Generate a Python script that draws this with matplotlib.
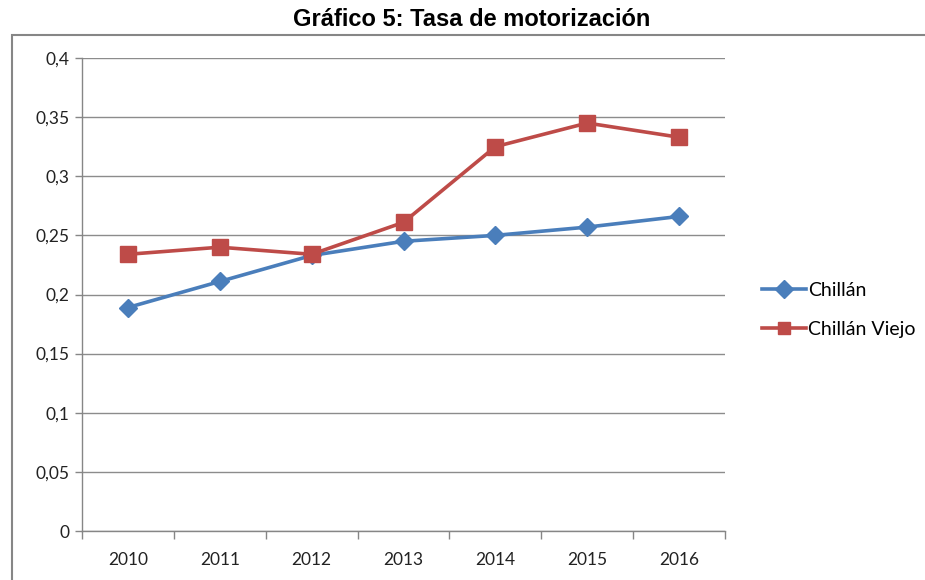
import matplotlib.pyplot as plt
from matplotlib.patches import Rectangle
import numpy as np

anios = ['2010', '2011', '2012', '2013', '2014', '2015', '2016']
chillan = [0.189, 0.211, 0.233, 0.245, 0.250, 0.257, 0.266]
chillan_viejo = [0.234, 0.240, 0.234, 0.261, 0.325, 0.345, 0.333]
yticks = [0, 0.05, 0.1, 0.15, 0.2, 0.25, 0.3, 0.35, 0.4]
ytick_labels = ['0', '0,05', '0,1', '0,15', '0,2', '0,25', '0,3', '0,35', '0,4']

W, H = 925, 580
fig = plt.figure(figsize=(9.25, 5.8), dpi=100)

# borde del área del gráfico (se corta a la derecha y abajo)
fig.patches.append(Rectangle((12 / W, -0.05), 1.0, 1 - 35 / H + 0.05,
                             transform=fig.transFigure, fill=False,
                             edgecolor='#868686', linewidth=1.5))

fig.text(472 / W, 1 - 20 / H, 'Gráfico 5: Tasa de motorización',
         ha='center', va='center', fontsize=17, fontweight='bold',
         family=['Liberation Sans'])

ax = fig.add_axes([82 / W, 1 - 531 / H, (725 - 82) / W, (531 - 58) / H])
x = np.arange(len(anios))

ax.plot(x, chillan, color='#4A7EBB', linewidth=2.6, marker='D',
        markersize=9, label='Chillán', zorder=3)
ax.plot(x, chillan_viejo, color='#BE4B48', linewidth=2.6, marker='s',
        markersize=11, label='Chillán Viejo', zorder=3)

ax.set_xlim(-0.5, len(anios) - 0.5)
ax.set_ylim(0, 0.4)
ax.set_yticks(yticks)
ax.set_yticklabels(ytick_labels)
ax.set_xticks(x)
ax.set_xticklabels(anios)
ax.set_xticks(np.arange(-0.5, len(anios)), minor=True)
ax.tick_params(axis='x', which='major', length=0, pad=15)
ax.tick_params(axis='x', which='minor', length=6, color='#868686', width=1)
ax.tick_params(axis='y', length=5, color='#868686', width=1, pad=4)
for lab in ax.get_xticklabels() + ax.get_yticklabels():
    lab.set_family(['Lato', 'DejaVu Sans'])
    lab.set_fontsize(12.5)
    lab.set_color('#222222')

ax.grid(axis='y', color='#8C8C8C', linewidth=1)
ax.set_axisbelow(True)
for s in ['top', 'right']:
    ax.spines[s].set_visible(False)
for s in ['left', 'bottom']:
    ax.spines[s].set_color('#868686')
    ax.spines[s].set_linewidth(1)

leg = fig.legend(loc='center left', bbox_to_anchor=(744 / W, 1 - 310 / H),
                 frameon=False, handlelength=2.3, labelspacing=1.15,
                 handletextpad=0.1, prop={'family': ['Lato', 'DejaVu Sans'], 'size': 14})
for h in leg.legend_handles:
    h.set_markersize(9)

plt.savefig('out.png', dpi=100)
